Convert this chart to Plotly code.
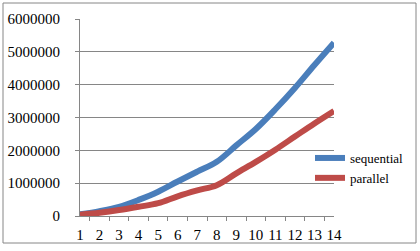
import plotly.graph_objects as go

categories = [str(i) for i in range(1, 15)]
sequential = [50000, 150000, 280000, 490000, 740000, 1050000, 1350000, 1650000,
              2150000, 2650000, 3250000, 3900000, 4600000, 5280000]
parallel = [40000, 100000, 180000, 280000, 390000, 600000, 780000, 940000,
            1300000, 1650000, 2020000, 2420000, 2820000, 3200000]
y_ticks = [0, 1000000, 2000000, 3000000, 4000000, 5000000, 6000000]

W, H = 420, 251
L, R, T, B = 80, 334, 19, 216
pw, ph = R - L, B - T

fig = go.Figure()
fig.add_trace(go.Scatter(x=categories, y=sequential, name="sequential", mode="lines",
                         line=dict(color="#4A7EBB", width=6, shape="spline", smoothing=1.0)))
fig.add_trace(go.Scatter(x=categories, y=parallel, name="parallel", mode="lines",
                         line=dict(color="#BE4B48", width=6, shape="spline", smoothing=1.0)))

grid = "#868686"
fig.update_layout(
    width=W, height=H,
    margin=dict(l=L, r=W - R, t=T, b=H - B, pad=0, autoexpand=False),
    paper_bgcolor="white", plot_bgcolor="white",
    font=dict(family="Liberation Serif", size=15, color="black"),
    showlegend=True,
    legend=dict(x=(350 - 40 - L) / pw, xanchor="left", y=(B - 143) / ph, yanchor="top",
                font=dict(size=13), bgcolor="rgba(0,0,0,0)", tracegroupgap=0),
    xaxis=dict(type="category", showline=True, linecolor=grid, linewidth=1,
               ticks="outside", ticklen=4, tickcolor=grid, tickson="boundaries",
               tickmode="array", tickvals=categories, ticktext=categories,
               tickangle=0, tickfont=dict(size=15), automargin=False,
               showgrid=False, zeroline=False, ticklabelstandoff=5),
    yaxis=dict(range=[0, 6000000], tickvals=y_ticks, tickformat="d",
               showline=True, linecolor=grid, linewidth=1, automargin=False,
               ticks="outside", ticklen=4, tickcolor=grid,
               showgrid=True, gridcolor=grid, gridwidth=1, zeroline=False,
               ticklabelstandoff=12),
    shapes=[dict(type="rect", xref="paper", yref="paper",
                 x0=(3 - L) / pw, x1=(416 - L) / pw,
                 y0=(B - 243) / ph, y1=(B - 3) / ph,
                 line=dict(color=grid, width=1), fillcolor="rgba(0,0,0,0)")],
)

fig.write_html("out.html", config={"displayModeBar": False},
               post_script="document.body.style.margin='0';")
